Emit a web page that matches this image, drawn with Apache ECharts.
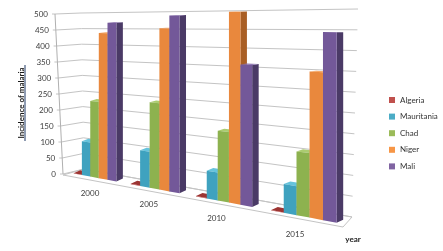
<!DOCTYPE html>
<html><head><meta charset="utf-8">
<script src="https://cdn.jsdelivr.net/npm/echarts@6/dist/echarts.min.js"></script>
<style>html,body{margin:0;padding:0;background:#fff}#c{width:443px;height:251px}</style>
</head><body><div id="c"></div>
<script>
// ---- data ----
const categories = ['2000', '2005', '2010', '2015'];
const countries = ['Algeria', 'Mauritania', 'Chad', 'Niger', 'Mali'];
const algeria = [1, 1, 1, 1];
const mauritania = [103, 102, 74, 71];
const chad = [229, 242, 184, 156];
const niger = [435, 452, 498, 353];
const mali = [466, 488, 362, 449];
const yTicks = [0, 50, 100, 150, 200, 250, 300, 350, 400, 450, 500];
const yMax = 500;
const seriesValues = [algeria, mauritania, chad, niger, mali];

// ---- styles ----
const legendColors = ['#C0504D', '#4BACC6', '#9BBB59', '#F79646', '#8064A2'];
const faceColors = [ // front, side, top
  ['#b03f3d', '#872c2a', '#9c3432'],
  ['#3fa2bf', '#2b7a90', '#66c3dc'],
  ['#8db24f', '#67863a', '#abcc70'],
  ['#e9883d', '#a95f25', '#f6a868'],
  ['#735899', '#4a3a66', '#9078b2']
];
const FONT = 'Lato, "Open Sans", sans-serif';

// ---- perspective layout ----
const PA = 48.563, PB = 67.29, PC = -0.06199;   // category direction
const Y0 = 176, X0 = 87, SL = 0.187;            // floor line under bar fronts
const S0 = 0.322;                               // px per unit at u=0
const BDX = 6.5, BDY = -3, BS = 0.985;          // bar depth offset
const GF = 0.76;                                // cluster width fraction
const LF = [[63, 174], [55, 14]];   // left wall front edge (bottom, top)
const BL = [[84, 169], [81, 13]];   // back-left corner
const BR = [[352, 217], [358, 9]];  // back-right end
const FR = [343, 227];              // floor front-right
const FL = [63, 175];

function P(u, v, back) {
  const w = 1 + PC * u;
  let x = (PA * u + PB) / w;
  let y = Y0 + SL * (x - X0) - v * S0 / w * (back ? BS : 1);
  if (back) { x += BDX; y += BDY; }
  return [x, y];
}
function lerp(e, f) { return [e[0][0] + (e[1][0] - e[0][0]) * f, e[0][1] + (e[1][1] - e[0][1]) * f]; }

function bandPos(params, api, g, val) {
  const rect = params.coordSys;
  const pTop = api.coord([g, val]);
  const pBase = api.coord([g, 0]);
  const band = api.size([1, 0])[0];
  return { uc: (pBase[0] - rect.x) / band, v: (pBase[1] - pTop[1]) / rect.height * yMax };
}

function barRender(k) {
  return function (params, api) {
    const b = bandPos(params, api, api.value(0), api.value(1));
    const u0 = b.uc - GF / 2 + k * GF / 5, u1 = u0 + GF / 5, v = b.v;
    const fbl = P(u0, 0, 0), fbr = P(u1, 0, 0), ftl = P(u0, v, 0), ftr = P(u1, v, 0);
    const bbr = P(u1, 0, 1), btr = P(u1, v, 1), btl = P(u0, v, 1);
    const c = faceColors[k];
    return { type: 'group', children: [
      { type: 'polygon', shape: { points: [ftr, fbr, bbr, btr] }, style: { fill: c[1] } },
      { type: 'polygon', shape: { points: [ftl, ftr, btr, btl] }, style: { fill: c[2] } },
      { type: 'polygon', shape: { points: [ftl, ftr, fbr, fbl] }, style: { fill: c[0] } }
    ] };
  };
}

const series = [];
// floor
series.push({
  type: 'custom', name: 'floor', z: 1, silent: true,
  data: [[0, 0]],
  renderItem: function () {
    return { type: 'polygon', shape: { points: [FL, FR, BR[0], BL[0]] },
      style: { fill: '#fff', stroke: '#c4c4c4', lineWidth: 1 } };
  }
});
// walls gridlines + y tick labels
series.push({
  type: 'custom', name: 'walls', z: 1, silent: true,
  data: yTicks.map(t => [0, t]),
  renderItem: function (params, api) {
    const rect = params.coordSys;
    const p = api.coord([0, api.value(1)]);
    const f = (rect.y + rect.height - p[1]) / rect.height;
    const a = lerp(LF, f), b = lerp(BL, f), c = lerp(BR, f);
    const t = yTicks[params.dataIndex];
    return { type: 'group', children: [
      { type: 'polyline', shape: { points: [[a[0] - 3, a[1]], a, b, c] },
        style: { stroke: '#c4c4c4', lineWidth: 1, fill: null } },
      { type: 'text', x: a[0] - 7, y: a[1],
        style: { text: String(t), align: 'right', verticalAlign: 'middle', font: '8px ' + FONT, fill: '#404040' } }
    ] };
  }
});
// left axis line
series.push({
  type: 'custom', name: 'axisline', z: 1, silent: true,
  data: [[0, 0]],
  renderItem: function () {
    return { type: 'line', shape: { x1: LF[0][0], y1: LF[0][1], x2: LF[1][0], y2: LF[1][1] },
      style: { stroke: '#b0b0b0', lineWidth: 1 } };
  }
});
// bars
countries.forEach((name, k) => {
  series.push({
    type: 'custom', name: name, z: 2,
    itemStyle: { color: legendColors[k] },
    data: seriesValues[k].map((v, g) => [g, v]),
    renderItem: barRender(k)
  });
});
// category labels
series.push({
  type: 'custom', name: 'cats', z: 3, silent: true,
  data: categories.map((c, g) => [g, 0]),
  renderItem: function (params, api) {
    const b = bandPos(params, api, api.value(0), 0);
    const p = P(b.uc, 0, 0);
    const d = b.uc - 0.5;
    return { type: 'text', x: p[0] - 4.5 - 1.17 * d, y: p[1] + 15.6 + 0.67 * d,
      style: { text: categories[params.dataIndex], align: 'center', verticalAlign: 'middle',
        font: '8px ' + FONT, fill: '#404040' } };
  }
});

const chart = echarts.init(document.getElementById('c'), null, { renderer: 'canvas' });
chart.setOption({
  animation: false,
  backgroundColor: '#fff',
  grid: { left: 60, top: 14, width: 280, height: 160 },
  xAxis: { type: 'category', data: categories, show: false },
  yAxis: { type: 'value', min: 0, max: yMax, interval: 50, show: false },
  legend: {
    orient: 'vertical', left: 389, top: 96, padding: 0,
    itemWidth: 6, itemHeight: 6, itemGap: 8.6, icon: 'rect',
    data: countries,
    textStyle: { fontSize: 8, lineHeight: 8, fontFamily: FONT, color: '#333' }
  },
  graphic: [
    { type: 'text', x: 21, y: 103, rotation: Math.PI / 2,
      style: { text: 'Incidence of malaria', align: 'center', verticalAlign: 'middle',
        font: 'bold 8px ' + FONT, fill: '#1a1a1a' } },
    { type: 'line', shape: { x1: 25, y1: 65, x2: 25, y2: 141 }, style: { stroke: '#1F3864', lineWidth: 1 } },
    { type: 'text', x: 353, y: 239,
      style: { text: 'year', align: 'center', verticalAlign: 'middle', font: 'bold 8px ' + FONT, fill: '#1a1a1a' } }
  ],
  series: series
});
</script></body></html>
